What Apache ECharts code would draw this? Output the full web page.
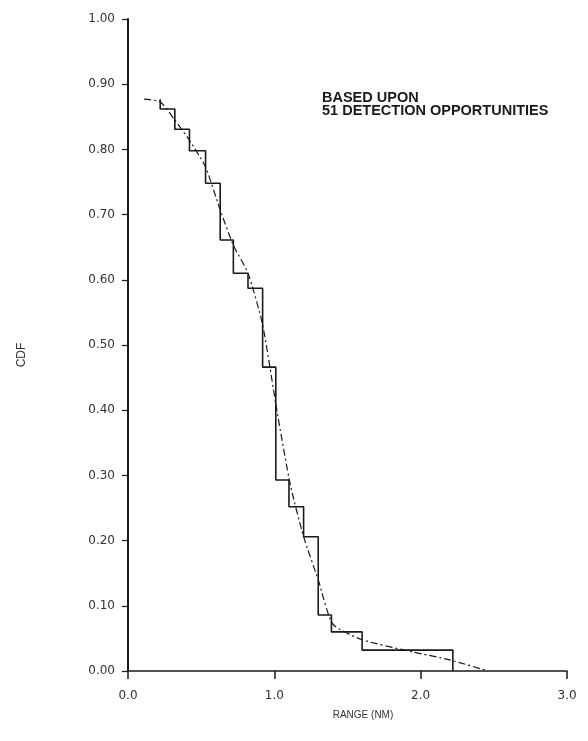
<!DOCTYPE html>
<html>
<head>
<meta charset="utf-8">
<script src="https://cdn.jsdelivr.net/npm/echarts@6/dist/echarts.min.js"></script>
<style>
html,body{margin:0;padding:0;background:#fff;}
#chart{width:588px;height:741px;}
</style>
</head>
<body>
<div id="chart"></div>
<script>
// Empirical (step) CDF: x = range where the drop happens, y = level after the drop
const stepRange = [0.22, 0.22, 0.32, 0.42, 0.53, 0.63, 0.72, 0.82, 0.92, 1.01, 1.10, 1.20, 1.30, 1.39, 1.60, 2.22];
const stepCdf   = [0.877, 0.862, 0.831, 0.798, 0.748, 0.661, 0.610, 0.587, 0.466, 0.293, 0.252, 0.206, 0.086, 0.060, 0.032, 0.000];
// Smooth fitted curve (dash-dot)
const fitRange = [0.11, 0.22, 0.32, 0.42, 0.53, 0.63, 0.72, 0.82, 0.92, 1.02, 1.11, 1.20, 1.30, 1.40, 1.60, 1.95, 2.20, 2.46];
const fitCdf   = [0.877, 0.873, 0.845, 0.814, 0.773, 0.707, 0.653, 0.610, 0.531, 0.396, 0.285, 0.206, 0.140, 0.072, 0.048, 0.029, 0.017, 0.000];
const noteLines = ['BASED UPON', '51 DETECTION OPPORTUNITIES'];
const xTitle = 'RANGE (NM)';
const yTitle = 'CDF';

const chart = echarts.init(document.getElementById('chart'), null, {renderer: 'canvas'});
const zip = (a, b) => a.map((v, i) => [v, b[i]]);
const ink = '#1a1a1a';
chart.setOption({
  animation: false,
  backgroundColor: '#fff',
  grid: {left: 128, right: 21, top: 19, bottom: 70},
  xAxis: {
    type: 'value', min: 0, max: 3, interval: 1,
    axisLine: {show: true, lineStyle: {color: ink, width: 1.5}},
    axisTick: {show: true, length: 8, lineStyle: {color: ink, width: 1.5}},
    axisLabel: {formatter: v => v.toFixed(1), color: '#333', fontSize: 12, margin: 19, fontFamily: 'DejaVu Sans'},
    splitLine: {show: false}
  },
  yAxis: {
    type: 'value', min: 0, max: 1, interval: 0.1,
    axisLine: {show: true, lineStyle: {color: ink, width: 2}},
    axisTick: {show: true, length: 6, lineStyle: {color: ink, width: 1.2}},
    axisLabel: {formatter: v => v.toFixed(2), color: '#333', fontSize: 12, margin: 13, fontFamily: 'DejaVu Sans'},
    splitLine: {show: false}
  },
  graphic: [
    {type: 'text', left: 322, top: 90, style: {text: noteLines.join('\n'), fill: ink, font: 'bold 14.5px "Liberation Sans", Arial, sans-serif', lineHeight: 13}},
    {type: 'text', x: 363, y: 715, style: {text: xTitle, fill: '#333', font: '10px "Liberation Sans", Arial, sans-serif', align: 'center', verticalAlign: 'middle'}},
    {type: 'text', x: 22, y: 355, rotation: Math.PI / 2, style: {text: yTitle, fill: '#333', font: '12px "Liberation Sans", Arial, sans-serif', align: 'center', verticalAlign: 'middle'}}
  ],
  series: [
    {
      type: 'line', data: zip(fitRange, fitCdf), smooth: 0.2, showSymbol: false, symbol: 'none',
      lineStyle: {color: ink, width: 1.2, type: [7, 3, 2, 3]}, z: 2
    },
    {
      type: 'line', data: zip(stepRange, stepCdf), step: 'end', showSymbol: false, symbol: 'none',
      lineStyle: {color: ink, width: 1.6}, z: 3
    }
  ]
});
</script>
</body>
</html>
